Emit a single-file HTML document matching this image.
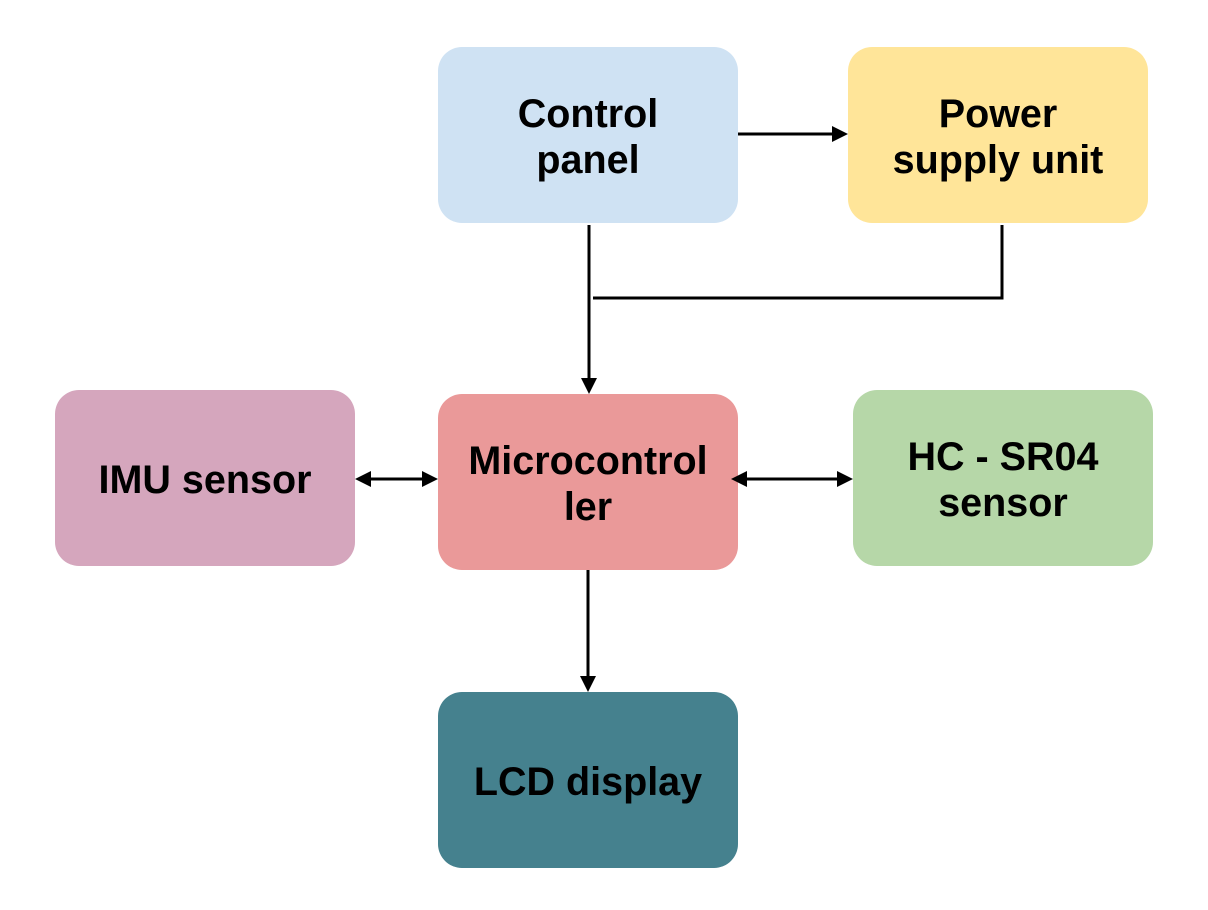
<!DOCTYPE html>
<html><head><style>
body{margin:0;width:1208px;height:910px;background:#fff;overflow:hidden;position:relative;font-family:"Liberation Sans",sans-serif}
.b{position:absolute;width:300px;height:176px;border-radius:24px;display:flex;align-items:center;justify-content:center;text-align:center;font-weight:bold;font-size:39.5px;line-height:46px;color:#000;box-sizing:border-box;padding-top:3px}
svg{position:absolute;left:0;top:0}
</style></head><body>
<div class="b" style="left:438px;top:47px;background:#cfe2f3">Control<br>panel</div>
<div class="b" style="left:848px;top:47px;background:#ffe599">Power<br>supply unit</div>
<div class="b" style="left:55px;top:390px;background:#d5a6bd">IMU sensor</div>
<div class="b" style="left:438px;top:394px;background:#ea9999">Microcontrol<br>ler</div>
<div class="b" style="left:853px;top:390px;background:#b6d7a8">HC - SR04<br>sensor</div>
<div class="b" style="left:438px;top:692px;background:#45818e">LCD display</div>
<svg width="1208" height="910">
<g stroke="#000" stroke-width="3" fill="none">
<line x1="738" y1="134" x2="834" y2="134"/>
<line x1="589" y1="225" x2="589" y2="380"/>
<polyline points="1002,225 1002,298 593,298"/>
<line x1="370" y1="479" x2="424" y2="479"/>
<line x1="745" y1="479" x2="838" y2="479"/>
<line x1="588" y1="570" x2="588" y2="678"/>
</g>
<g fill="#000">
<polygon points="848,134 832,126 832,142"/>
<polygon points="589,394 581,378 597,378"/>
<polygon points="355,479 371,471 371,487"/>
<polygon points="438,479 422,471 422,487"/>
<polygon points="731,479 747,471 747,487"/>
<polygon points="853,479 837,471 837,487"/>
<polygon points="588,692 580,676 596,676"/>
</g>
</svg>
</body></html>
